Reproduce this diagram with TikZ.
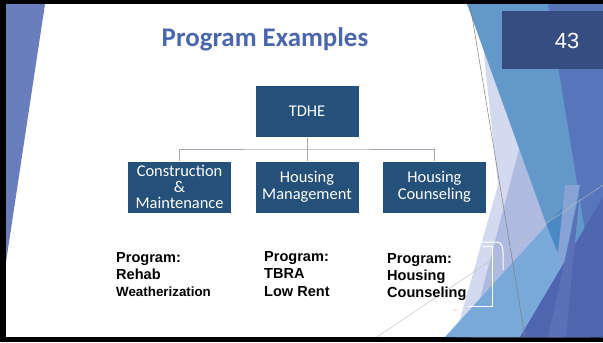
\documentclass[tikz,border=0pt]{standalone}
\usepackage{fontspec}
\setmainfont{Carlito}
\newfontfamily\arialfont{Liberation Sans}
\usetikzlibrary{positioning}
\definecolor{boxblue}{HTML}{24507A}
\definecolor{titleblue}{HTML}{4A66AC}
\definecolor{numblue}{HTML}{374C80}
\definecolor{linkgray}{HTML}{A9A4B4}
\definecolor{facetleft}{HTML}{6A7EBD}
\definecolor{facetpale}{HTML}{D3D9EE}
\definecolor{facetlav}{HTML}{AEBADF}
\definecolor{facetlight}{HTML}{6398CA}
\definecolor{facetslate}{HTML}{5675BA}
\definecolor{facetsky}{HTML}{78A9D9}
\definecolor{facetteal}{HTML}{4A89C4}
\definecolor{facetstrip}{HTML}{87A3D6}
\definecolor{facetdeep}{HTML}{4E66AF}
\definecolor{facetmid}{HTML}{5A71B8}
\tikzset{
  orgbox/.style={fill=boxblue,draw=white,line width=.4bp,text=white,minimum width=104bp,minimum height=52bp,inner sep=0pt,align=center,font=\fontsize{16.5}{16.5}\selectfont},
  link/.style={draw=linkgray,line width=1bp},
  prog/.style={anchor=north west,inner sep=0pt,align=left,font=\arialfont\bfseries\fontsize{14.6}{17.5}\selectfont},
  whiteline/.style={draw=white,line width=1bp}
}
\begin{document}
\begin{tikzpicture}[x=1bp,y=-1bp]
\useasboundingbox (0,0) rectangle (603,342);
\fill[black] (0,0) rectangle (603,342);
\fill[white] (6,4) rectangle (603,337);
% facets
\begin{scope}
\clip (6,4) rectangle (603,337);
\fill[facetleft] (6,4) -- (45,4) -- (6,262) -- cycle;
\fill[facetpale] (495,4) -- (484,55) -- (498,185) -- (455,337) -- (603,337) -- (603,4) -- cycle;
\fill[facetlav] (522,138) -- (590,337) -- (470,337) -- cycle;
\fill[facetlight] (467,4) -- (603,4) -- (603,337) -- (587,337) -- cycle;
\fill[facetslate] (548,4) -- (603,4) -- (603,342) -- cycle;
\fill[facetsky] (445,337) -- (567,203) -- (590,337) -- cycle;
\fill[facetteal] (546.5,225) -- (567,203) -- (558,253) -- cycle;
\fill[facetstrip] (565,185) -- (580,185) -- (562,268) -- (558,253) -- cycle;
\fill[facetdeep] (520,337) -- (603,197) -- (603,337) -- cycle;
\fill[facetmid] (548,337) -- (580,190) -- (566,337) -- cycle;
\draw[gray,line width=.5bp] (470,4) -- (525,337);
\draw[gray!50,line width=.4bp] (377,337) -- (603,185);
\end{scope}
\draw[whiteline] (480,242) -- (497,242) to[out=0,in=90] (503,252) -- (503,270);
\draw[whiteline] (483,246) -- (492,246) -- (492,306) -- (468,306);
\node[fill=numblue,minimum width=101bp,minimum height=58bp,inner sep=0pt,anchor=north west] (numbox) at (502,11) {};
\node[text=white,font=\arialfont\fontsize{22}{22}\selectfont] (num) at (567,41) {43};

\node[anchor=base,text=titleblue,font=\bfseries\fontsize{27}{27}\selectfont] (title) at (265,46) {Program Examples};

\node[orgbox] (tdhe) at (307,111.5) {TDHE};
\node[orgbox,below=23bp of tdhe] (hm) {Housing\\Management};
\node[orgbox,left=23bp of hm] (cm) {Construction\\\&\\Maintenance};
\node[orgbox,right=23bp of hm] (hc) {Housing\\Counseling};
\coordinate (bus) at (307,149);
\draw[link] (tdhe.south) -- (hm.north);
\draw[link] (cm.north) |- (bus) -| (hc.north);

\node[prog] (p1) at (116,251.8) {Program:\\Rehab\\{\fontsize{13.4}{17.5}\selectfont Weatherization}};
\node[prog] (p2) at (264,251.2) {Program:\\TBRA\\Low Rent};
\node[prog] (p3) at (387,252.8) {Program:\\Housing\\Counseling};
\node[text=red!55,font=\fontsize{3}{3}\selectfont,inner sep=0pt] (pg) at (455,311) {43};
\end{tikzpicture}
\end{document}
